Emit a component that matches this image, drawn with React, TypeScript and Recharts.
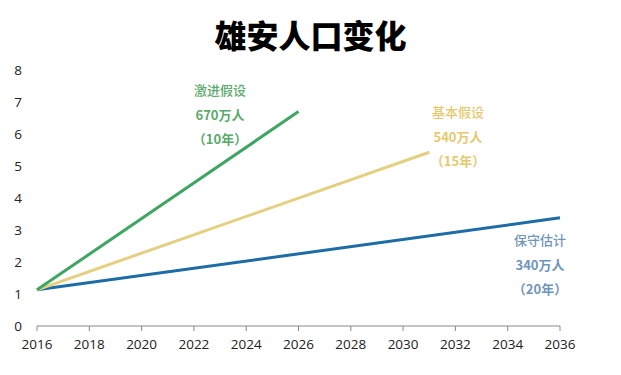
import { LineChart, Line, XAxis, YAxis } from 'recharts';

// years and population (millions, x100 万人) for each scenario
const aggressiveYears = [2016, 2026];
const aggressiveValues = [1.13, 6.7];
const baseYears = [2016, 2031];
const baseValues = [1.13, 5.43];
const conservativeYears = [2016, 2036];
const conservativeValues = [1.13, 3.38];

const xTicks = [2016, 2018, 2020, 2022, 2024, 2026, 2028, 2030, 2032, 2034, 2036];
const yTicks = [0, 1, 2, 3, 4, 5, 6, 7, 8];

const toRows = (years: number[], values: number[]) =>
  years.map((year, i) => ({ year, value: values[i] }));

const notes = [
  { lines: ['激进假设', '670万人', '（10年）'], color: '#5aaa6c', x: 220, y: 90 },
  { lines: ['基本假设', '540万人', '（15年）'], color: '#e6c96e', x: 458, y: 112 },
  { lines: ['保守估计', '340万人', '（20年）'], color: '#6f95bd', x: 540, y: 240 },
];

const cjk = '"Noto Sans CJK SC", "Open Sans", sans-serif';
const tickFont = { fill: '#222', fontSize: 13.5, fontFamily: '"Open Sans", sans-serif' };

export default function App() {
  return (
    <div style={{ position: 'absolute', left: 0, top: 0, width: 621, height: 375, background: '#fff' }}>
      <div
        style={{
          position: 'absolute',
          left: 0,
          top: 11,
          width: 621,
          textAlign: 'center',
          fontFamily: cjk,
          fontWeight: 900,
          fontSize: 32,
          lineHeight: '46px',
          color: '#000',
        }}
      >
        雄安人口变化
      </div>
      <LineChart width={621} height={375} margin={{ top: 70, right: 61, left: 0, bottom: 19 }}>
        <XAxis
          type="number"
          dataKey="year"
          domain={[2016, 2036]}
          ticks={xTicks}
          allowDuplicatedCategory={false}
          height={30}
          stroke="#888"
          tickSize={5}
          tickMargin={8}
          tick={tickFont}
        />
        <YAxis
          type="number"
          domain={[0, 8]}
          ticks={yTicks}
          width={37}
          axisLine={false}
          tickLine={false}
          tick={{ ...tickFont, dx: -7 }}
        />
        <Line
          data={toRows(conservativeYears, conservativeValues)}
          dataKey="value"
          stroke="#1e6ca6"
          strokeWidth={3}
          dot={false}
          isAnimationActive={false}
        />
        <Line
          data={toRows(baseYears, baseValues)}
          dataKey="value"
          stroke="#e5cf80"
          strokeWidth={3}
          dot={false}
          isAnimationActive={false}
        />
        <Line
          data={toRows(aggressiveYears, aggressiveValues)}
          dataKey="value"
          stroke="#3ea662"
          strokeWidth={3}
          dot={false}
          isAnimationActive={false}
        />
      </LineChart>
      {notes.map((n) =>
        n.lines.map((t, i) => (
          <div
            key={n.x + '-' + i}
            style={{
              position: 'absolute',
              left: n.x - 50,
              top: n.y - 10 + i * 24.5,
              width: 100,
              textAlign: 'center',
              fontFamily: cjk,
              fontWeight: i === 0 ? 500 : 700,
              fontSize: 13,
              lineHeight: '20px',
              color: n.color,
            }}
          >
            {t}
          </div>
        ))
      )}
    </div>
  );
}
